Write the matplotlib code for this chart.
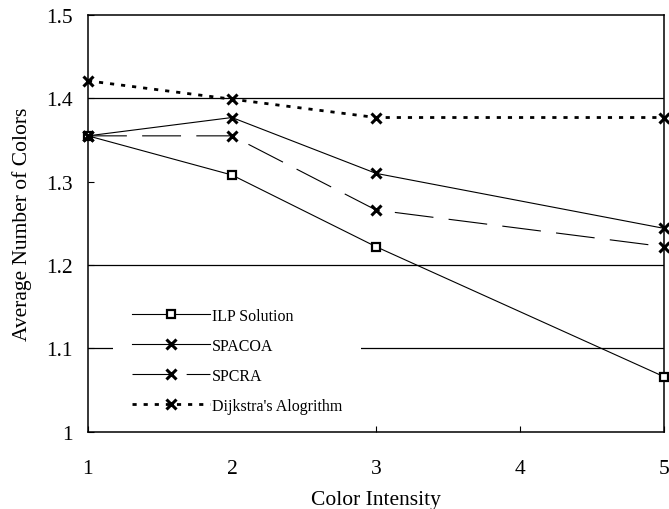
import matplotlib
matplotlib.use("Agg")
import matplotlib.pyplot as plt

plt.rcParams['font.family'] = ['Liberation Serif', 'DejaVu Serif']
plt.rcParams['lines.scale_dashes'] = False

x = [1, 2, 3, 5]
ilp = [1.355, 1.308, 1.222, 1.066]
spacoa = [1.355, 1.377, 1.310, 1.244]
spcra = [1.355, 1.355, 1.266, 1.222]
dijkstra = [1.421, 1.399, 1.377, 1.377]
grid_y = [1.1, 1.2, 1.4]

fig = plt.figure(figsize=(6.69, 5.10), dpi=100)
ax = fig.add_axes([0.1315, 0.1516, 0.861, 0.817])

for gy in grid_y:
    ax.axhline(gy, color='black', lw=0.9, zorder=0)

ax.plot(x, ilp, color='black', lw=0.8, marker='s', ms=6, mfc='white',
        mec='black', mew=1.6, label='ILP Solution', zorder=3, clip_on=False)
ax.plot(x, spacoa, color='black', lw=0.8, marker='x', ms=7, mew=2.2,
        label='SPACOA', zorder=3, clip_on=False)
ax.plot(x, spcra, color='black', lw=0.8, marker='x', ms=7, mew=2.2,
        dashes=(28, 11), label='SPCRA', zorder=3, clip_on=False)
ax.plot(x, dijkstra, color='black', lw=2.0, marker='x', ms=7, mew=2.2,
        dashes=(3, 5), label="Dijkstra's Alogrithm", zorder=3, clip_on=False)

ax.set_xlim(1, 5)
ax.set_ylim(1, 1.5)
ax.set_xticks([1, 2, 3, 4, 5])
ax.set_yticks([1, 1.1, 1.2, 1.3, 1.4, 1.5])
ax.set_yticklabels(['1', '1.1', '1.2', '1.3', '1.4', '1.5'])
ax.tick_params(axis='both', direction='in', length=4, width=0.8, labelsize=15.5)
ax.tick_params(axis='y', pad=11)
ax.tick_params(axis='x', pad=20)
for s in ax.spines.values():
    s.set_linewidth(1.1)

ax.set_xlabel('Color Intensity', fontsize=15.5, labelpad=8)
ax.set_ylabel('Average Number of Colors', fontsize=15.5, labelpad=10)

leg = ax.legend(loc='lower left', bbox_to_anchor=(0.029, -0.022), frameon=True,
                fontsize=11.5, handlelength=4.9, labelspacing=0.88,
                handletextpad=0.1, borderpad=1.2)
leg.get_frame().set_edgecolor('none')
leg.get_frame().set_facecolor('white')
leg.get_frame().set_alpha(1)
leg.set_zorder(2)

fig.savefig('out.png', dpi=100)
